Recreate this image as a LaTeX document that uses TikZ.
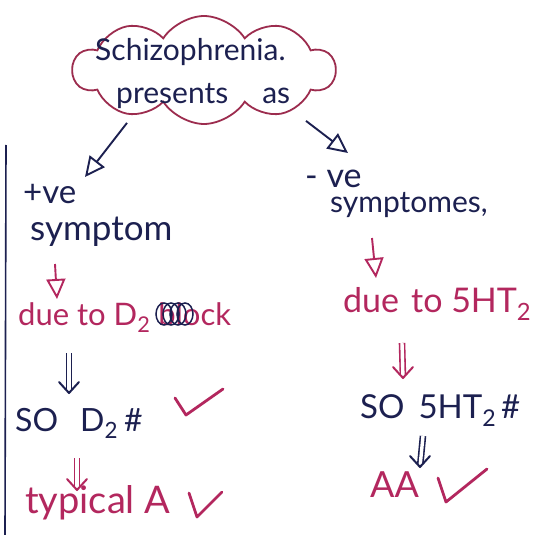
\documentclass[tikz,border=0pt]{standalone}
\usepackage{fontspec}
\setmainfont{Lato}
\usetikzlibrary{shapes.symbols, arrows.meta, calc}
\definecolor{ink}{HTML}{1C2050}
\definecolor{pinkink}{HTML}{B3275E}
\definecolor{cloudc}{HTML}{9C2C4E}
\tikzset{
  handtext/.style={inner sep=0pt, anchor=base west, font=\fontsize{#1}{#1}\selectfont},
  navytext/.style={handtext=#1, text=ink},
  pinktext/.style={handtext=#1, text=pinkink},
  singlearrow/.style={line width=1.9pt, -{Triangle[open, length=20pt, width=19pt, line width=1.9pt]}},
  dblstem/.style={double, double distance=3.4pt, line width=1.6pt, shorten >=3pt},
  chevron/.style={line width=2pt, line cap=round, line join=round},
  checkmark/.style={draw=pinkink, line width=2.8pt, line cap=round, line join=round},
  scribble/.style={draw=ink, line width=1.5pt},
}
\begin{document}
\begin{tikzpicture}[x=1pt, y=-1pt]
\useasboundingbox[fill=white] (0,0) rectangle (547,535);
% page edge
\draw[ink, line width=1.6pt] (6,145) -- (5,535);
% cloud
\node[cloud, cloud puffs=10, cloud puff arc=115, aspect=2.5, draw=cloudc, line width=1.8pt,
      minimum width=262pt, minimum height=108pt, inner sep=0pt] (cl) at (204,70) {};
\node[navytext=30] (t1) at (95,61) {Schizophrenia.};
\node[navytext=30] (t2) at (116,104) {presents\hspace{34pt}as};
% left branch
\node[navytext=33] (pve) at (23,203) {+ve};
\node[navytext=35] (sym1) at (30,240) {symptom};
\node[pinktext=31] (due1) at (18,325) {due to D\textsubscript{2} block};
\node[navytext=32] (so1) at (15,431) {SO\hspace{22pt}D\textsubscript{2}\hspace{6pt}\#};
\node[pinktext=38] (ty) at (25,513) {typical A};
% right branch
\node[navytext=34] (nve) at (305,187) {- ve};
\node[navytext=30] (sym2) at (330,212) {symptomes,};
\node[pinktext=34] (due2) at (343,312) {due\hspace{12pt}to 5HT\textsubscript{2}};
\node[navytext=33] (so2) at (360,418) {SO\hspace{14pt}5HT\textsubscript{2}\hspace{5pt}\#};
\node[pinktext=36] (aa) at (370,497) {AA};
% scribble over "block"
\foreach \i in {0,1,2,3}
  \draw[scribble] ($(due1.base west)+(146+7*\i,-11)$) ellipse (8pt and 11pt);
% single connectors
\draw[ink, singlearrow] ($(cl.south)+(-77,-2)$) -- ($(pve.base west)+(62,-26)$);
\draw[ink, singlearrow] ($(cl.south)+(102,-4)$) -- ($(nve.base west)+(43,-34)$);
\draw[pinkink, singlearrow] ($(sym1.base west)+(25,24)$) -- ($(due1.base west)+(39,-26)$);
\draw[pinkink, singlearrow] ($(sym2.base west)+(42,26)$) -- ($(due2.base west)+(33,-34)$);
% double connectors
\draw[ink, dblstem] ($(due1.base west)+(51,28)$) -- ($(so1.base west)+(54,-38)$) coordinate (h1);
\draw[ink, chevron] ($(h1)+(-10,-11)$) -- (h1) -- ($(h1)+(10,-11)$);
\draw[pinkink, dblstem] ($(so1.base west)+(62,27)$) -- ($(ty.base west)+(52,-23)$) coordinate (h2);
\draw[pinkink, chevron] ($(h2)+(-10,-11)$) -- (h2) -- ($(h2)+(10,-11)$);
\draw[pinkink, dblstem] ($(due2.base west)+(59,31)$) -- ($(so2.base west)+(43,-40)$) coordinate (h3);
\draw[pinkink, chevron] ($(h3)+(-10,-11)$) -- (h3) -- ($(h3)+(10,-11)$);
\draw[ink, dblstem] ($(so2.base west)+(63,18)$) -- ($(aa.base west)+(50,-30)$) coordinate (h4);
\draw[ink, chevron] ($(h4)+(-10,-11)$) -- (h4) -- ($(h4)+(10,-11)$);
% check marks
\draw[checkmark] (175,398) -- (186,415) -- (223,389);
\draw[checkmark] (189,493) -- (197,517) -- (222,492);
\draw[checkmark] (438,478) -- (446,502) -- (487,469);
\end{tikzpicture}
\end{document}
